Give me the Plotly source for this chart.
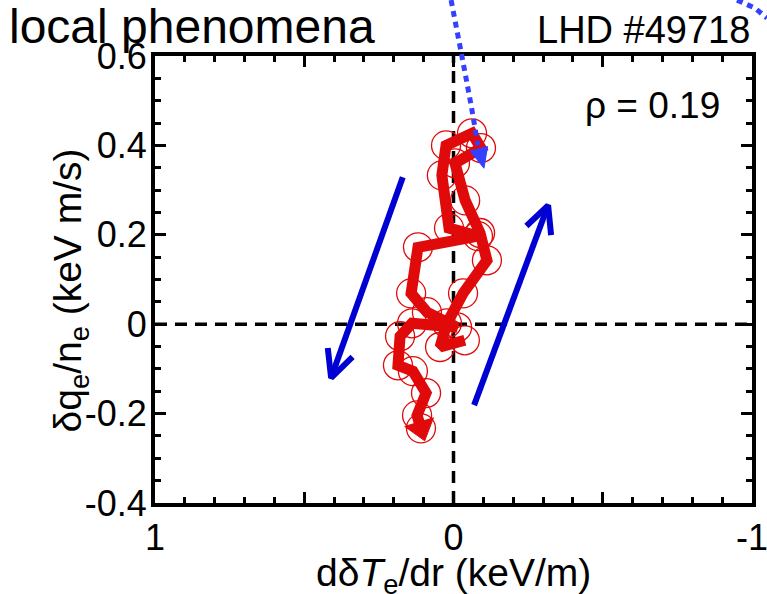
import math
import plotly.graph_objects as go

# Trajectory in the (d dTe/dr, dq_e/n_e) plane at rho = 0.19
grad_te = [-0.038, 0.045, 0.022, -0.032, -0.112, -0.089, -0.039, -0.005, -0.092,
           -0.062, 0.025, 0.039, 0.015, -0.082, 0.119, 0.142, 0.089, -0.012,
           0.139, 0.179, 0.186, 0.136, 0.092, 0.122, 0.109]
heat_flux = [-0.036, -0.051, 0.002, 0.069, 0.143, 0.204, 0.277, 0.360, 0.394,
             0.427, 0.400, 0.333, 0.215, 0.197, 0.172, 0.069, 0.027, -0.007,
             0.002, -0.027, -0.092, -0.105, -0.154, -0.204, -0.233]

# Direction guides (tail -> head), data units
arrow_down = [(0.17, 0.329), (0.41, -0.12)]
arrow_up = [(-0.069, -0.181), (-0.317, 0.266)]

# Dotted guide coming in from above the frame, ending in a filled head
guide_x = [0.008, -0.028, -0.059, -0.082, -0.102]
guide_y = [0.725, 0.600, 0.490, 0.400, 0.349]
corner_x = [-0.95, -1.01, -1.05]
corner_y = [0.725, 0.707, 0.685]

x_labels = [1, 0, -1]
x_labeltext = ["1", "0", "-1"]
x_major = [1, 0.5, 0, -0.5, -1]
x_half = [0.5, -0.5]
y_ticks = [-0.4, -0.2, 0, 0.2, 0.4, 0.6]
y_ticktext = ["-0.4", "-0.2", "0", "0.2", "0.4", "0.6"]

X_RANGE = [1, -1]
Y_RANGE = [-0.4, 0.6]
W, H = 767, 594
M = dict(l=155, r=15, t=56, b=91)
PW = W - M["l"] - M["r"]
PH = H - M["t"] - M["b"]

FONT = "Liberation Sans, Arial, sans-serif"
RED = "#e00a0a"
BLUE = "#0000d2"
LIGHT_BLUE = "#3340ff"


def to_px(x, y):
    px = (x - X_RANGE[0]) / (X_RANGE[1] - X_RANGE[0]) * PW
    py = (Y_RANGE[1] - y) / (Y_RANGE[1] - Y_RANGE[0]) * PH
    return px, py


def from_px(px, py):
    x = X_RANGE[0] + px / PW * (X_RANGE[1] - X_RANGE[0])
    y = Y_RANGE[1] - py / PH * (Y_RANGE[1] - Y_RANGE[0])
    return x, y


def to_paper(x, y):
    return ((x - X_RANGE[0]) / (X_RANGE[1] - X_RANGE[0]),
            (y - Y_RANGE[0]) / (Y_RANGE[1] - Y_RANGE[0]))


def head_arms(tail, tip, length=30, half_angle=26):
    tx, ty = to_px(*tail)
    hx, hy = to_px(*tip)
    d = math.hypot(tx - hx, ty - hy)
    ux, uy = (tx - hx) / d, (ty - hy) / d
    pts = []
    for s in (1, -1):
        a = math.radians(half_angle * s)
        rx = ux * math.cos(a) - uy * math.sin(a)
        ry = ux * math.sin(a) + uy * math.cos(a)
        pts.append(from_px(hx + rx * length, hy + ry * length))
    return pts


fig = go.Figure()

# Zero lines
fig.add_shape(type="line", x0=0, x1=0, y0=Y_RANGE[0], y1=Y_RANGE[1],
              line=dict(color="black", width=3.5, dash="12px,8px"), layer="below")
fig.add_shape(type="line", x0=X_RANGE[0], x1=X_RANGE[1], y0=0, y1=0,
              line=dict(color="black", width=3.5, dash="12px,8px"), layer="below")

# Blue direction arrows
for tail, tip in (arrow_down, arrow_up):
    a1, a2 = head_arms(tail, tip)
    fig.add_trace(go.Scatter(
        x=[tail[0], tip[0], None, a1[0], tip[0], a2[0]],
        y=[tail[1], tip[1], None, a1[1], tip[1], a2[1]],
        mode="lines", line=dict(color=BLUE, width=6),
        hoverinfo="skip", showlegend=False))

# Trajectory
fig.add_trace(go.Scatter(
    x=grad_te, y=heat_flux, mode="lines+markers",
    line=dict(color=RED, width=11),
    marker=dict(symbol="circle-open", size=29, color=RED, line=dict(width=1.3, color=RED)),
    showlegend=False))

# Arrow tip at the end of the trajectory
fig.add_trace(go.Scatter(
    x=grad_te[-2:], y=heat_flux[-2:], mode="markers",
    marker=dict(symbol="triangle-up", size=[0, 26], color=RED, angleref="previous",
                opacity=1, line=dict(width=1, color=RED)),
    showlegend=False, hoverinfo="skip"))

# Carrier traces for the mirrored tick axes
fig.add_trace(go.Scatter(x=[None], y=[None], xaxis="x2", yaxis="y2",
                         showlegend=False, hoverinfo="skip"))
fig.add_trace(go.Scatter(x=[None], y=[None], xaxis="x3", yaxis="y",
                         showlegend=False, hoverinfo="skip"))


# Dotted guides (drawn in paper space so they can leave the frame)
def poly_path(xs, ys):
    pts = [to_paper(x, y) for x, y in zip(xs, ys)]
    return "M " + " L ".join(f"{px:.4f},{py:.4f}" for px, py in pts)


fig.add_shape(type="path", xref="paper", yref="paper",
              path=poly_path(guide_x[:-1], guide_y[:-1]),
              line=dict(color=LIGHT_BLUE, width=5, dash="6px,5px"))
fig.add_shape(type="path", xref="paper", yref="paper",
              path=poly_path(corner_x, corner_y),
              line=dict(color=LIGHT_BLUE, width=5, dash="6px,5px"))

# Filled head of the dotted guide
tail = (guide_x[-2], guide_y[-2])
tip = (guide_x[-1], guide_y[-1])
tpx, tpy = to_px(*tail)
hpx, hpy = to_px(*tip)
d = math.hypot(tpx - hpx, tpy - hpy)
ux, uy = (tpx - hpx) / d, (tpy - hpy) / d
bx, by = hpx + ux * 20, hpy + uy * 20
tri = [(hpx, hpy), (bx - uy * 9, by + ux * 9), (bx + uy * 9, by - ux * 9)]
tri_paper = [to_paper(*from_px(px, py)) for px, py in tri]
fig.add_shape(type="path", xref="paper", yref="paper",
              path="M " + " L ".join(f"{a:.4f},{b:.4f}" for a, b in tri_paper) + " Z",
              fillcolor=LIGHT_BLUE, line=dict(color=LIGHT_BLUE, width=1))

tick_style = dict(ticks="inside", ticklen=11, tickwidth=3, tickcolor="black",
                  showgrid=False, zeroline=False, automargin=False)
x_minor = dict(tickmode="linear", tick0=0, dtick=0.1, ticks="inside",
               ticklen=6, tickwidth=3, tickcolor="black")
y_minor = dict(tickmode="linear", tick0=0, dtick=0.05, ticks="inside",
               ticklen=6, tickwidth=3, tickcolor="black")
tick_font = dict(family=FONT, size=36, color="black")

fig.update_layout(
    xaxis=dict(range=X_RANGE, tickmode="array", tickvals=x_labels, ticktext=x_labeltext,
               minor=x_minor, showline=True, linecolor="black", linewidth=4, mirror=True,
               ticklabelstandoff=0, ticklabeloverflow="allow", tickfont=tick_font,
               **tick_style),
    yaxis=dict(range=Y_RANGE, tickmode="array", tickvals=y_ticks, ticktext=y_ticktext,
               minor=y_minor, showline=True, linecolor="black", linewidth=4, mirror=True,
               ticklabelstandoff=-3, ticklabeloverflow="allow", tickfont=tick_font,
               **tick_style),
    xaxis2=dict(range=X_RANGE, overlaying="x", anchor="y2", side="top",
                tickmode="array", tickvals=x_major, minor=x_minor,
                showticklabels=False, showline=False, **tick_style),
    yaxis2=dict(range=Y_RANGE, overlaying="y", anchor="x2", side="right",
                tickmode="array", tickvals=y_ticks, minor=y_minor,
                showticklabels=False, showline=False, **tick_style),
    xaxis3=dict(range=X_RANGE, overlaying="x", anchor="y", side="bottom",
                tickmode="array", tickvals=x_half,
                showticklabels=False, showline=False, **tick_style),
)

ann_font = dict(family=FONT, size=37, color="black")
fig.add_annotation(text="local phenomena", xref="paper", yref="paper",
                   x=-0.248, y=1.066, xanchor="left", yanchor="middle",
                   showarrow=False, font=dict(family=FONT, size=48, color="black"))
fig.add_annotation(text="LHD #49718", xref="paper", yref="paper",
                   x=1.0, y=1.058, xanchor="right", yanchor="middle",
                   showarrow=False, font=dict(family=FONT, size=38, color="black"))
fig.add_annotation(text="ρ = 0.19", xref="paper", yref="paper",
                   x=0.95, y=0.89, xanchor="right", yanchor="middle",
                   showarrow=False, font=ann_font)
fig.add_annotation(text="dδ<i>T</i><sub>e</sub>/dr (keV/m)", xref="paper", yref="paper",
                   x=0.5, y=-0.162, xanchor="center", yanchor="middle",
                   showarrow=False, font=dict(family=FONT, size=39, color="black"))
fig.add_annotation(text="δq<sub>e</sub>/n<sub>e</sub> (keV m/s)", xref="paper", yref="paper",
                   x=-0.142, y=0.476, xanchor="center", yanchor="middle", textangle=-90,
                   showarrow=False, font=dict(family=FONT, size=39, color="black"))

fig.update_layout(
    width=W, height=H, margin=M,
    paper_bgcolor="white", plot_bgcolor="white",
    showlegend=False,
)

fig.write_html("out.html")
